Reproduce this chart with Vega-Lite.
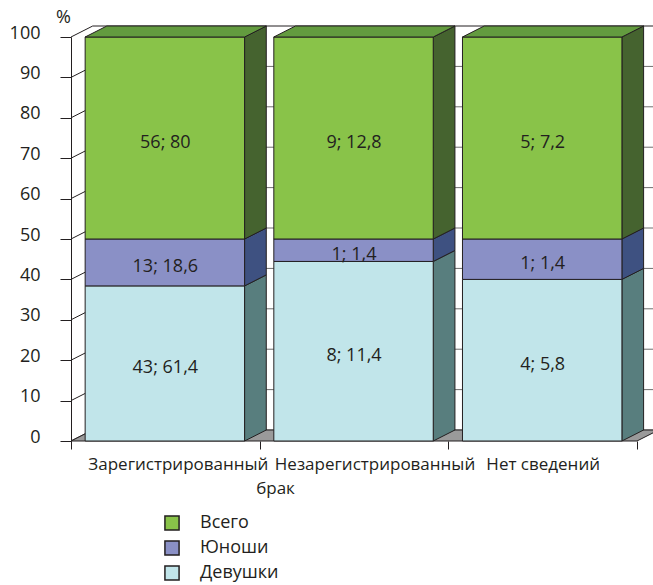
{
  "$schema": "https://vega.github.io/schema/vega-lite/v6.json",
  "width": 566,
  "height": 404,
  "autosize": {"type": "none"},
  "padding": {"left": 71, "top": 37, "right": 16, "bottom": 144},
  "background": "white",
  "config": {"font": "Open Sans", "view": {"stroke": null}},
  "datasets": {
    "bars": [
      {"cat": "Зарегистрированный", "group": "Девушки", "n": 43, "share": 61.4},
      {"cat": "Зарегистрированный", "group": "Юноши", "n": 13, "share": 18.6},
      {"cat": "Зарегистрированный", "group": "Всего", "n": 56, "share": 80},
      {"cat": "Незарегистрированный", "group": "Девушки", "n": 8, "share": 11.4},
      {"cat": "Незарегистрированный", "group": "Юноши", "n": 1, "share": 1.4},
      {"cat": "Незарегистрированный", "group": "Всего", "n": 9, "share": 12.8},
      {"cat": "Нет сведений", "group": "Девушки", "n": 4, "share": 5.8},
      {"cat": "Нет сведений", "group": "Юноши", "n": 1, "share": 1.4},
      {"cat": "Нет сведений", "group": "Всего", "n": 5, "share": 7.2}
    ],
    "ticks": [
      {"v": 0}, {"v": 10}, {"v": 20}, {"v": 30}, {"v": 40}, {"v": 50},
      {"v": 60}, {"v": 70}, {"v": 80}, {"v": 90}, {"v": 100}
    ]
  },
  "resolve": {"scale": {"x": "independent"}, "axis": {"x": "independent"}},
  "layer": [
    {
      "layer": [
        {
          "data": {"name": "ticks"},
          "transform": [{"calculate": "datum.v + 2.72", "as": "ve"}],
          "mark": {"type": "rule", "strokeWidth": 1},
          "encoding": {
            "x": {
              "datum": 0.115, "type": "quantitative",
              "scale": {"domain": [0, 3], "nice": false, "zero": false},
              "axis": {"orient": "bottom", "values": [0, 1, 2, 3], "labels": false, "domain": false, "grid": false, "ticks": true, "tickSize": 8, "tickColor": "#231f20", "title": null}
            },
            "x2": {"datum": 3.3},
            "y": {
              "field": "ve", "type": "quantitative",
              "scale": {"domain": [0, 100], "nice": false, "zero": false},
              "axis": {
                "values": [0, 10, 20, 30, 40, 50, 60, 70, 80, 90, 100],
                "format": "d", "grid": false, "domain": true, "ticks": true, "labels": true,
                "domainColor": "#231f20", "tickColor": "#231f20", "tickSize": 11,
                "labelFontSize": 18, "labelColor": "#231f20", "labelPadding": 20, "labelOffset": -4,
                "labelOverlap": false, "labelFlush": false,
                "title": "%", "titleAngle": 0, "titleX": -8, "titleY": -20,
                "titleAlign": "center", "titleBaseline": "middle",
                "titleFontSize": 18, "titleFontWeight": "normal", "titleColor": "#231f20"
              }
            },
            "stroke": {"condition": {"test": "datum.v === 100", "value": "#231f20"}, "value": "#6e6e6e"}
          }
        },
        {
          "data": {"name": "ticks"},
          "transform": [{"calculate": "datum.v + 2.72", "as": "ve"}],
          "mark": {"type": "rule", "color": "#231f20", "strokeWidth": 1},
          "encoding": {
            "x": {"datum": 0, "type": "quantitative"},
            "x2": {"datum": 0.115},
            "y": {"field": "v", "type": "quantitative"},
            "y2": {"field": "ve"}
          }
        },
        {
          "data": {"name": "bars"},
          "transform": [
            {"aggregate": [{"op": "count", "as": "count"}]},
            {"calculate": "0", "as": "front"},
            {"calculate": "1", "as": "back"},
            {"fold": ["front", "back"], "as": ["edge", "t"]},
            {"calculate": "datum.t * 2.72", "as": "fy"},
            {"calculate": "datum.t * 0.115", "as": "fx0"},
            {"calculate": "3 + datum.t * 0.115", "as": "fx1"}
          ],
          "mark": {"type": "area", "orient": "horizontal", "fill": "#9a9a9a", "stroke": "#231f20", "strokeWidth": 1},
          "encoding": {
            "y": {"field": "fy", "type": "quantitative"},
            "x": {"field": "fx0", "type": "quantitative"},
            "x2": {"field": "fx1"}
          }
        },
        {
          "data": {"name": "bars"},
          "transform": [
            {"calculate": "indexof(['Девушки', 'Юноши', 'Всего'], datum.group)", "as": "ord"},
            {"stack": "n", "groupby": ["cat"], "offset": "normalize", "sort": [{"field": "ord", "order": "ascending"}], "as": ["s0", "s1"]},
            {"window": [{"op": "dense_rank", "as": "k"}], "sort": [{"field": "cat", "order": "ascending"}]},
            {"calculate": "100 * datum.s0", "as": "y0"},
            {"calculate": "100 * datum.s1", "as": "y1"},
            {"calculate": "datum.k - 0.08", "as": "xr"},
            {"calculate": "0", "as": "near"},
            {"calculate": "1", "as": "far"},
            {"fold": ["near", "far"], "as": ["edge", "t"]},
            {"calculate": "datum.xr + datum.t * 0.115", "as": "sx"},
            {"calculate": "datum.y0 + datum.t * 2.72", "as": "sy0"},
            {"calculate": "datum.y1 + datum.t * 2.72", "as": "sy1"}
          ],
          "mark": {"type": "area", "stroke": "#231f20", "strokeWidth": 1},
          "encoding": {
            "x": {"field": "sx", "type": "quantitative"},
            "y": {"field": "sy1", "type": "quantitative"},
            "y2": {"field": "sy0"},
            "detail": [{"field": "cat", "type": "nominal"}, {"field": "group", "type": "nominal"}],
            "fill": {
              "condition": [
                {"test": "datum.group === 'Всего'", "value": "#45632f"},
                {"test": "datum.group === 'Юноши'", "value": "#3e5181"}
              ],
              "value": "#587e7e"
            }
          }
        },
        {
          "data": {"name": "bars"},
          "transform": [
            {"calculate": "indexof(['Девушки', 'Юноши', 'Всего'], datum.group)", "as": "ord"},
            {"stack": "n", "groupby": ["cat"], "offset": "normalize", "sort": [{"field": "ord", "order": "ascending"}], "as": ["s0", "s1"]},
            {"window": [{"op": "dense_rank", "as": "k"}], "sort": [{"field": "cat", "order": "ascending"}]},
            {"calculate": "100 * datum.s0", "as": "y0"},
            {"calculate": "100 * datum.s1", "as": "y1"},
            {"calculate": "datum.k - 0.925", "as": "xl"},
            {"calculate": "datum.k - 0.08", "as": "xr"}
          ],
          "mark": {"type": "rect", "stroke": "#231f20", "strokeWidth": 1},
          "encoding": {
            "x": {"field": "xl", "type": "quantitative"},
            "x2": {"field": "xr"},
            "y": {"field": "y1", "type": "quantitative"},
            "y2": {"field": "y0"},
            "fill": {
              "field": "group", "type": "nominal",
              "scale": {"domain": ["Всего", "Юноши", "Девушки"], "range": ["#89c349", "#8a90c6", "#c1e5ea"]},
              "legend": {
                "orient": "none", "legendX": 92, "legendY": 477, "title": null, "direction": "vertical",
                "symbolType": "square", "symbolSize": 200, "symbolStrokeColor": "#231f20", "symbolStrokeWidth": 1.5,
                "labelFontSize": 18, "labelColor": "#231f20", "labelOffset": 19, "rowPadding": 3, "padding": 0
              }
            }
          }
        },
        {
          "data": {"name": "bars"},
          "transform": [
            {"calculate": "indexof(['Девушки', 'Юноши', 'Всего'], datum.group)", "as": "ord"},
            {"stack": "n", "groupby": ["cat"], "offset": "normalize", "sort": [{"field": "ord", "order": "ascending"}], "as": ["s0", "s1"]},
            {"window": [{"op": "dense_rank", "as": "k"}], "sort": [{"field": "cat", "order": "ascending"}]},
            {"filter": "datum.group === 'Всего'"},
            {"calculate": "100 * datum.s1", "as": "y1"},
            {"calculate": "datum.k - 0.925", "as": "xl"},
            {"calculate": "datum.k - 0.08", "as": "xr"},
            {"calculate": "0", "as": "near"},
            {"calculate": "1", "as": "far"},
            {"fold": ["near", "far"], "as": ["edge", "t"]},
            {"calculate": "datum.y1 + datum.t * 2.72", "as": "ty"},
            {"calculate": "datum.xl + datum.t * 0.115", "as": "tx0"},
            {"calculate": "datum.xr + datum.t * 0.115", "as": "tx1"}
          ],
          "mark": {"type": "area", "orient": "horizontal", "fill": "#639b3f", "stroke": "#231f20", "strokeWidth": 1},
          "encoding": {
            "y": {"field": "ty", "type": "quantitative"},
            "x": {"field": "tx0", "type": "quantitative"},
            "x2": {"field": "tx1"},
            "detail": {"field": "cat", "type": "nominal"}
          }
        }
      ]
    },
    {
      "data": {"name": "bars"},
      "transform": [
        {"calculate": "indexof(['Девушки', 'Юноши', 'Всего'], datum.group)", "as": "ord"},
        {"stack": "n", "groupby": ["cat"], "offset": "normalize", "sort": [{"field": "ord", "order": "ascending"}], "as": ["s0", "s1"]},
        {"calculate": "50 * (datum.s0 + datum.s1)", "as": "mid"},
        {"calculate": "datum.n + '; ' + replace(format(datum.share, '~f'), '.', ',')", "as": "label"}
      ],
      "mark": {"type": "text", "fontSize": 18, "baseline": "middle", "dy": 4.5, "color": "#231f20"},
      "encoding": {
        "x": {
          "field": "cat", "type": "nominal", "sort": null,
          "scale": {"paddingInner": 0, "paddingOuter": 0},
          "axis": {
            "orient": "bottom", "domain": false, "ticks": false, "tickSize": 0,
            "labelAngle": 0, "labelFontSize": 17, "labelColor": "#231f20",
            "labelBaseline": "alphabetic", "labelPadding": 28, "labelLimit": 400, "labelOverlap": false,
            "labelOffset": {
              "condition": [
                {"test": "datum.value === 'Зарегистрированный'", "value": 12.5},
                {"test": "datum.value === 'Незарегистрированный'", "value": 20.5}
              ],
              "value": 0
            },
            "title": "брак", "titleX": 204, "titleY": 52, "titleAlign": "center", "titleBaseline": "alphabetic",
            "titleFontSize": 17, "titleFontWeight": "normal", "titleColor": "#231f20"
          }
        },
        "y": {"field": "mid", "type": "quantitative"},
        "text": {"field": "label"}
      }
    }
  ]
}
